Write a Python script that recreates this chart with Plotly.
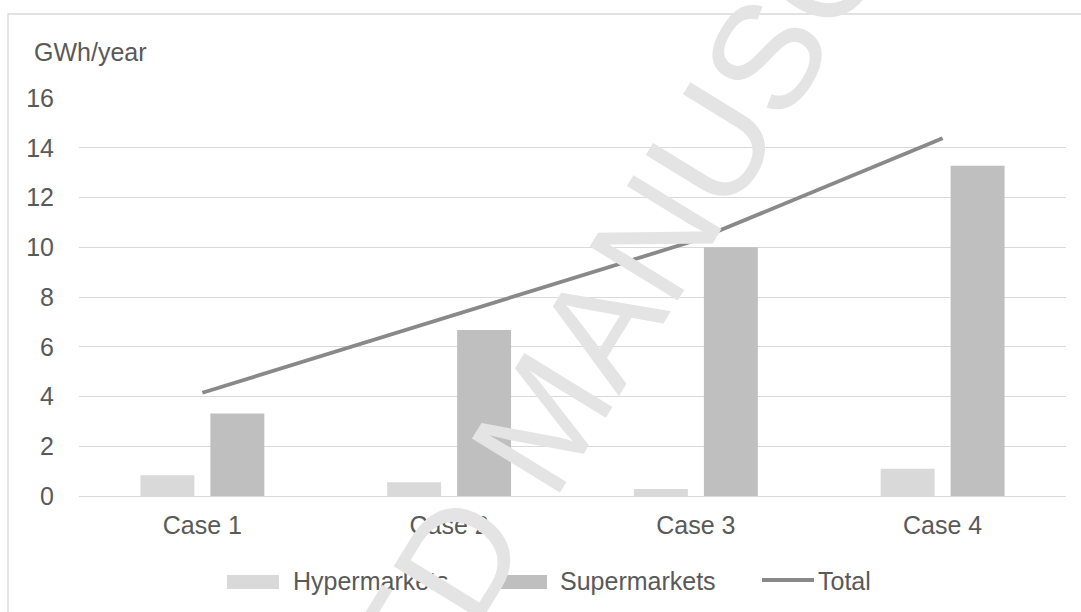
import plotly.graph_objects as go

# Annual energy by case
cases = ["Case 1", "Case 2", "Case 3", "Case 4"]
hypermarkets = [0.83, 0.55, 0.28, 1.10]
supermarkets = [3.32, 6.67, 10.00, 13.28]
total = [4.15, 7.22, 10.28, 14.38]
y_ticks = [0, 2, 4, 6, 8, 10, 12, 14, 16]

FONT = "Liberation Sans, Arial, sans-serif"
TEXT = "#595959"
GRID = "#d9d9d9"
C_HYPER = "#d9d9d9"
C_SUPER = "#bfbfbf"
C_TOTAL = "#898989"

fig = go.Figure()
fig.add_trace(go.Bar(x=cases, y=hypermarkets, name="Hypermarkets",
                     marker=dict(color=C_HYPER, line=dict(width=0)), showlegend=False))
fig.add_trace(go.Bar(x=cases, y=supermarkets, name="Supermarkets",
                     marker=dict(color=C_SUPER, line=dict(width=0)), showlegend=False))
fig.add_trace(go.Scatter(x=cases, y=total, name="Total", mode="lines",
                         line=dict(color=C_TOTAL, width=3.8), showlegend=False))

W, H = 1081, 612
L, R, T, B = 79, 15, 98, 116
pw, ph = W - L - R, H - T - B


def px(x):
    return (x - L) / pw


def py(y):
    return (H - B - y) / ph


shapes = [
    # chart area border
    dict(type="rect", xref="paper", yref="paper", x0=px(8), x1=px(1200),
         y0=py(800), y1=py(14), line=dict(color=GRID, width=1.3), layer="below"),
    # legend swatches
    dict(type="rect", xref="paper", yref="paper", x0=px(227), x1=px(279),
         y0=py(589), y1=py(575), fillcolor=C_HYPER, line=dict(width=0)),
    dict(type="rect", xref="paper", yref="paper", x0=px(495), x1=px(547),
         y0=py(589), y1=py(575), fillcolor=C_SUPER, line=dict(width=0)),
    dict(type="line", xref="paper", yref="paper", x0=px(762), x1=px(814),
         y0=py(580), y1=py(580), line=dict(color=C_TOTAL, width=4)),
]

annotations = [
    dict(text="GWh/year", xref="paper", yref="paper", x=px(32), y=py(52),
         xanchor="left", yanchor="middle", showarrow=False,
         font=dict(family=FONT, size=25, color=TEXT)),
    dict(text="Hypermarkets", xref="paper", yref="paper", x=px(291), y=py(581),
         xanchor="left", yanchor="middle", showarrow=False,
         font=dict(family=FONT, size=25, color=TEXT)),
    dict(text="Supermarkets", xref="paper", yref="paper", x=px(558), y=py(581),
         xanchor="left", yanchor="middle", showarrow=False,
         font=dict(family=FONT, size=25, color=TEXT)),
    dict(text="Total", xref="paper", yref="paper", x=px(816), y=py(581),
         xanchor="left", yanchor="middle", showarrow=False,
         font=dict(family=FONT, size=25, color=TEXT)),
    # manuscript watermark
    dict(text="ACCEPTED MANUSCRIPT", xref="paper", yref="paper",
         x=px(544), y=py(419), xanchor="center", yanchor="middle",
         showarrow=False, textangle=-58.5,
         font=dict(family=FONT, size=150, color="#e4e4e4")),
]

fig.update_layout(
    width=W, height=H,
    margin=dict(l=L, r=R, t=T, b=B, pad=0),
    paper_bgcolor="white", plot_bgcolor="white",
    barmode="group", bargap=0.433, bargroupgap=0.229,
    font=dict(family=FONT, size=25, color=TEXT),
    shapes=shapes, annotations=annotations,
    xaxis=dict(showgrid=False, showline=False, ticks="", zeroline=False,
               tickfont=dict(family=FONT, size=25, color=TEXT),
               ticklabelstandoff=12),
    yaxis=dict(range=[0, 16], tickvals=y_ticks, showgrid=True, gridcolor=GRID,
               gridwidth=1.3, zeroline=True, zerolinecolor=GRID, zerolinewidth=1.3,
               showline=False, ticks="",
               tickfont=dict(family=FONT, size=25, color=TEXT),
               ticklabelstandoff=24),
)

fig.write_html("out.html")
